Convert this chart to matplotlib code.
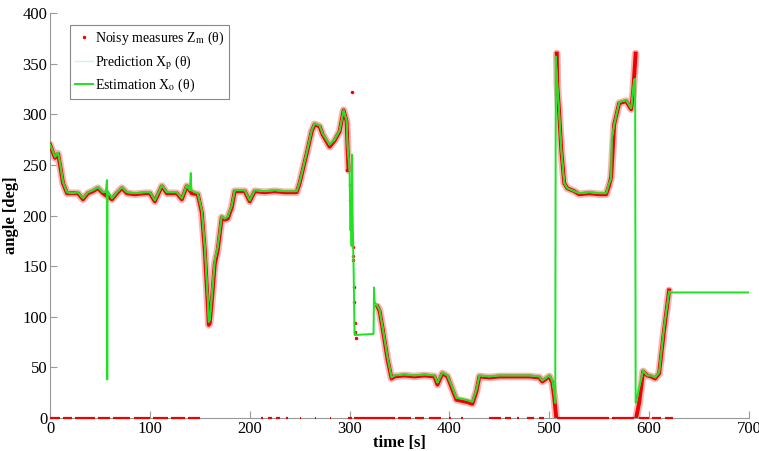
# angle tracking: noisy measures, prediction and estimation
import numpy as np
import matplotlib
matplotlib.use('Agg')
import matplotlib.pyplot as plt
from matplotlib.ticker import StrMethodFormatter

plt.rcParams['font.family'] = ['Liberation Serif', 'DejaVu Serif']
plt.rcParams['mathtext.fontset'] = 'stix'
plt.rcParams['axes.formatter.use_mathtext'] = False

nan = np.nan

# estimation X_o (green)
est_t = [0, 3, 5, 8, 10, 13, 17, 22, 28, 33, 38, 43, 48, 53, 56, 57, 57.3, 57.6, 58,
         62, 67, 72, 77, 85, 95, 100, 105, 112, 117, 127, 132, 137, 140, 141, 141.5, 145,
         148, 152, 155, 158, 159, 160, 162, 165, 168, 172, 175, 178, 182, 185, 195, 200,
         205, 215, 225, 235, 247, 250, 257, 262, 265, 270, 273, 280, 285, 290, 294, 297,
         298, 300, 300.5, 301, 301.5, 302, 302.5, 303, 304, 305, 324, 324.5, 325, 327,
         330, 333, 338, 342, 345, 355, 365, 375, 385, 388, 393, 398, 403, 407, 417, 423,
         427, 430, 440, 450, 460, 470, 480, 490, 493, 500, 503, 505, 506, 506.5, 508, 510,
         512, 515, 518, 525, 530, 540, 550, 557, 560, 562, 562.5, 565, 570, 577, 582, 584,
         585, 586, 586.5, 588, 590, 594, 598, 602, 606, 610, 615, 620, 622, 700]
est_v = [270, 263, 258, 262, 252, 233, 223, 222, 223, 217, 223, 225, 228, 223, 224, 235, 38, 224, 224,
         217, 223, 228, 223, 222, 223, 223, 215, 230, 223, 223, 217, 230, 225, 242, 225, 223,
         222, 205, 169, 117, 95, 97, 120, 156, 169, 200, 197, 199, 210, 225, 225, 215,
         225, 224, 225, 224, 224, 233, 262, 284, 291, 289, 281, 270, 275, 284, 304, 294,
         268, 245, 208, 185, 210, 170, 260, 200, 150, 82, 83, 129, 115, 112,
         107, 90, 60, 40, 42, 43, 42, 43, 42, 35, 45, 42, 30, 20, 18, 16,
         28, 42, 41, 42, 42, 42, 42, 41, 37, 42, 37, 25, 15, 357, 330, 300,
         265, 232, 227, 224, 222, 223, 222, 222, 232, 237, 275, 290, 312, 314, 306, 325,
         334, 335, 15, 20, 30, 47, 42, 42, 40, 45, 90, 125, 124, 124]

# prediction X_p sits almost exactly under the estimation
pred_t = est_t
pred_v = est_v

# main measurement track Z_m (red), nan = no track
meas_t = [0, 3, 5, 8, 10, 13, 17, 22, 28, 33, 38, 43, 48, 53, 62, 67, 72, 77, 85, 95, 100,
          105, 112, 117, 127, 132, 137, 142, 148, 152, 155, 158, 159, 160, 162, 165, 168,
          172, 175, 178, 182, 185, 195, 200, 205, 215, 225, 235, 247, 250, 257, 262, 265,
          270, 273, 280, 285, 290, 294, 297, 298, 299, 310,
          328, 330, 333, 338, 342, 345, 355, 365, 375, 385, 388, 393, 398, 403, 407, 417,
          423, 427, 430, 440, 450, 460, 470, 480, 490, 493, 500, 503, 505, 507, 507.2,
          507.5, 508, 510, 512, 515, 518, 525, 530, 540, 550, 557, 560, 562, 565, 570, 577,
          582, 584, 586.5, 586.8, 587, 590, 594, 598, 602, 606, 610, 615, 620]
meas_v = [270, 262, 257, 261, 250, 232, 222, 222, 222, 216, 222, 224, 227, 222, 216, 222, 227, 222, 221, 222, 222,
          214, 229, 222, 222, 216, 229, 222, 221, 203, 165, 112, 92, 94, 115, 152, 166,
          198, 196, 197, 208, 224, 224, 214, 224, 223, 224, 223, 223, 232, 261, 283, 290,
          288, 280, 268, 274, 283, 304, 293, 266, 245, nan,
          110, 106, 89, 58, 39, 41, 42, 41, 42, 41, 33, 44, 41, 28, 18, 16,
          14, 26, 41, 40, 41, 41, 41, 41, 40, 36, 41, 35, 20, 0, nan,
          360, 330, 300, 265, 232, 227, 224, 221, 222, 221, 221, 230, 238, 290, 311, 313,
          305, 322, 360, nan, 0, 15, 46, 42, 41, 39, 44, 87, 126]

# isolated measurements after the peak near t = 300
iso_t = [297.5, 300, 300.5, 301, 302, 303, 303.5, 303.8, 304, 304.5, 305, 305.5, 306]
iso_v = [245, 230, 215, 200, 322, 169, 160, 156, 129, 115, 94, 85, 79]

# runs of lost measurements (Z_m = 0)
zero_runs = [(0, 10), (13, 22), (25, 45), (48, 60), (63, 80), (84, 100), (103, 118),
             (121, 135), (138, 150), (211, 213), (218, 222), (226, 230), (236, 238),
             (250, 251), (265, 266), (280, 281), (298, 302), (304, 345), (348, 362),
             (366, 375), (380, 392), (400, 402), (412, 414), (440, 452), (456, 462),
             (468, 470), (478, 485), (490, 495), (508, 560), (563, 585), (590, 600),
             (603, 612), (616, 624)]

red = '#f00000'
green = '#1ee31e'
cyan = '#c8f4f4'

fig = plt.figure(figsize=(7.59, 4.51), dpi=100)
ax = fig.add_axes([0.0659, 0.0732, 0.9209, 0.8978])

# red measurement band (pink halo + red core)
ax.plot(meas_t, meas_v, color='#f7b4b4', lw=5.5, solid_capstyle='round', zorder=2)
ax.plot(meas_t, meas_v, color=red, lw=2.8, zorder=3)
ax.hlines([0] * len(zero_runs), [r[0] for r in zero_runs], [r[1] for r in zero_runs],
          colors=red, lw=1.6, zorder=6, clip_on=False)
ax.plot(iso_t, iso_v, '.', color=red, ms=3, zorder=3, label=r'Noisy measures Z$_\mathrm{m}$ (θ)')

ax.plot(pred_t, pred_v, color=cyan, lw=1, zorder=4, label=r'Prediction X$_\mathrm{p}$ (θ)')
ax.plot(est_t, est_v, color=green, lw=1.4, zorder=5, label=r'Estimation X$_\mathrm{o}$ (θ)')

ax.set_xlim(0, 700)
ax.set_ylim(0, 400)
ax.set_xticks(np.arange(0, 701, 100))
ax.set_yticks(np.arange(0, 401, 50))
ax.xaxis.set_major_formatter(StrMethodFormatter('{x:.0f}'))
ax.yaxis.set_major_formatter(StrMethodFormatter('{x:.0f}'))
for s in ['top', 'right']:
    ax.spines[s].set_visible(False)
for s in ['left', 'bottom']:
    ax.spines[s].set_color('#999999')
    ax.spines[s].set_linewidth(0.8)
ax.tick_params(direction='in', length=5, width=0.8, color='#999999', labelsize=12, pad=2)

ax.set_xlabel('time [s]', fontsize=12, fontweight='bold', labelpad=-1)
ax.set_ylabel('angle [deg]', fontsize=12, fontweight='bold', labelpad=2)

leg = ax.legend(loc='upper left', bbox_to_anchor=(0.0286, 0.970), borderaxespad=0,
                fontsize=10, frameon=True, fancybox=False, edgecolor='#888888',
                framealpha=1, handlelength=1.3, handletextpad=0.15, borderpad=0.35,
                labelspacing=0.4, markerscale=1.0)
leg.get_frame().set_linewidth(0.8)

fig.savefig('out.png', dpi=100)
